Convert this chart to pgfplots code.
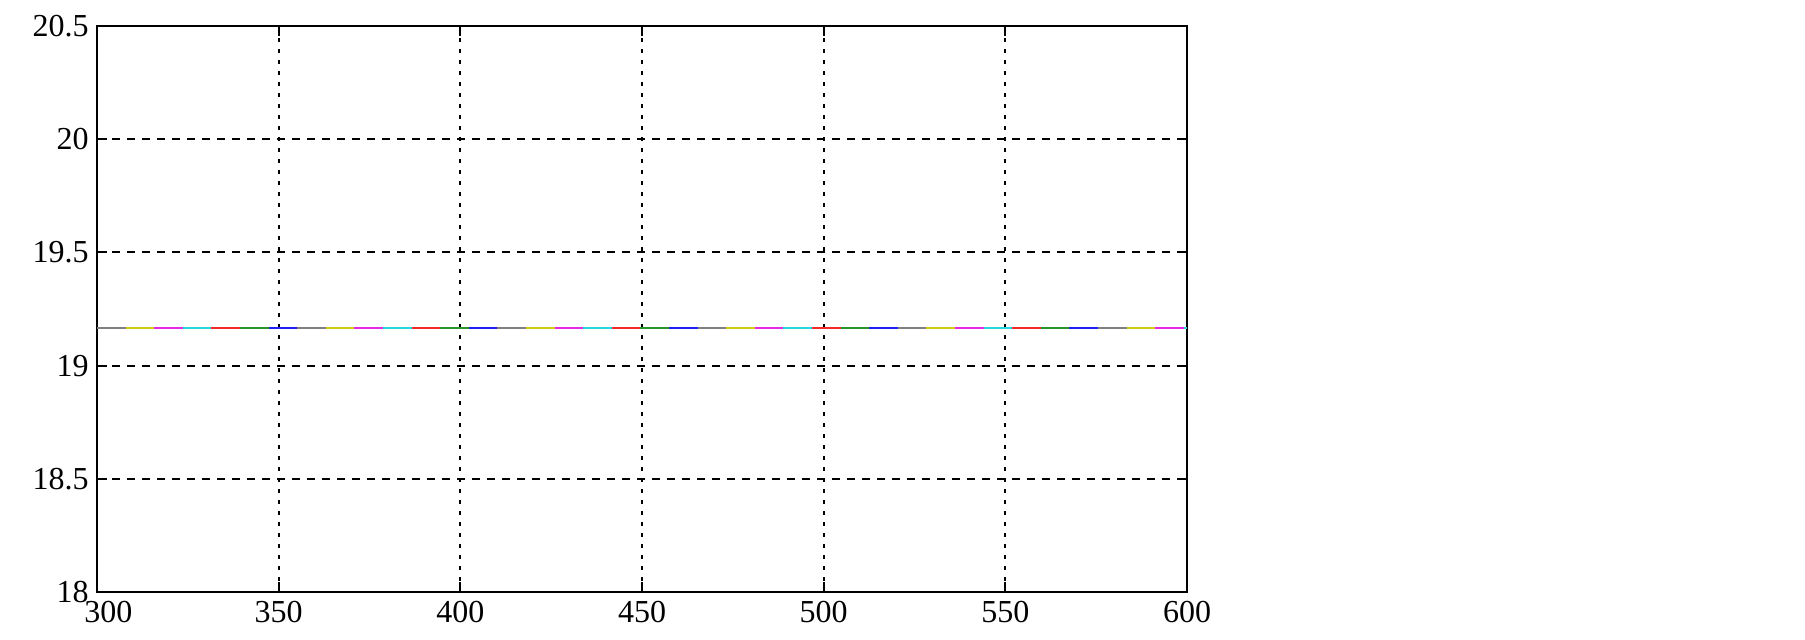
\documentclass[border=0pt]{standalone}
\usepackage{pgfplots}
\pgfplotsset{compat=1.18}
\usepackage{fontspec}
\setmainfont{Liberation Serif}
\definecolor{cgray}{RGB}{128,128,128}
\definecolor{cyellow}{RGB}{205,205,20}
\definecolor{cmag}{RGB}{230,40,230}
\definecolor{ccyan}{RGB}{40,215,215}
\definecolor{cred}{RGB}{245,40,40}
\definecolor{cgreen}{RGB}{40,150,40}
\definecolor{cblue}{RGB}{30,30,250}
\begin{document}
\begin{tikzpicture}
\useasboundingbox (-48.5pt,-24pt) rectangle (854pt,296pt);
\begin{axis}[
  anchor=south west, at={(0,0)},
  scale only axis,
  width=545pt, height=283pt,
  xmin=300, xmax=600, ymin=18, ymax=20.5,
  xtick={300,350,400,450,500,550,600},
  xticklabels={\hspace*{11.5pt}300,350,400,450,500,550,600},
  ytick={18,18.5,19,19.5,20,20.5},
  tick align=inside, tick pos=both,
  major tick length=5pt,
  every tick/.style={black, line width=1pt},
  axis line style={black, line width=1pt},
  grid=major,
  major x grid style={black, line width=1pt, dash pattern=on 2pt off 3.5pt},
  major y grid style={black, line width=1pt, dash pattern=on 4pt off 3.5pt},
  tick label style={font=\fontsize{16}{19}\selectfont},
  yticklabel style={inner sep=1pt, xshift=-3pt},
  xticklabel style={inner sep=1pt, yshift=-3.5pt},
  /pgf/number format/assume math mode=true,
  every axis plot/.append style={line width=1pt},
]
\addplot[cgray,   dash pattern=on 14.3pt off 85.8pt, dash phase=0pt]     coordinates {(300,19.166) (600,19.166)};
\addplot[cyellow, dash pattern=on 14.3pt off 85.8pt, dash phase=85.8pt]  coordinates {(300,19.166) (600,19.166)};
\addplot[cmag,    dash pattern=on 14.3pt off 85.8pt, dash phase=71.5pt]  coordinates {(300,19.166) (600,19.166)};
\addplot[ccyan,   dash pattern=on 14.3pt off 85.8pt, dash phase=57.2pt]  coordinates {(300,19.166) (600,19.166)};
\addplot[cred,    dash pattern=on 14.3pt off 85.8pt, dash phase=42.9pt]  coordinates {(300,19.166) (600,19.166)};
\addplot[cgreen,  dash pattern=on 14.3pt off 85.8pt, dash phase=28.6pt]  coordinates {(300,19.166) (600,19.166)};
\addplot[cblue,   dash pattern=on 14.3pt off 85.8pt, dash phase=14.3pt]  coordinates {(300,19.166) (600,19.166)};
\end{axis}
\end{tikzpicture}
\end{document}
